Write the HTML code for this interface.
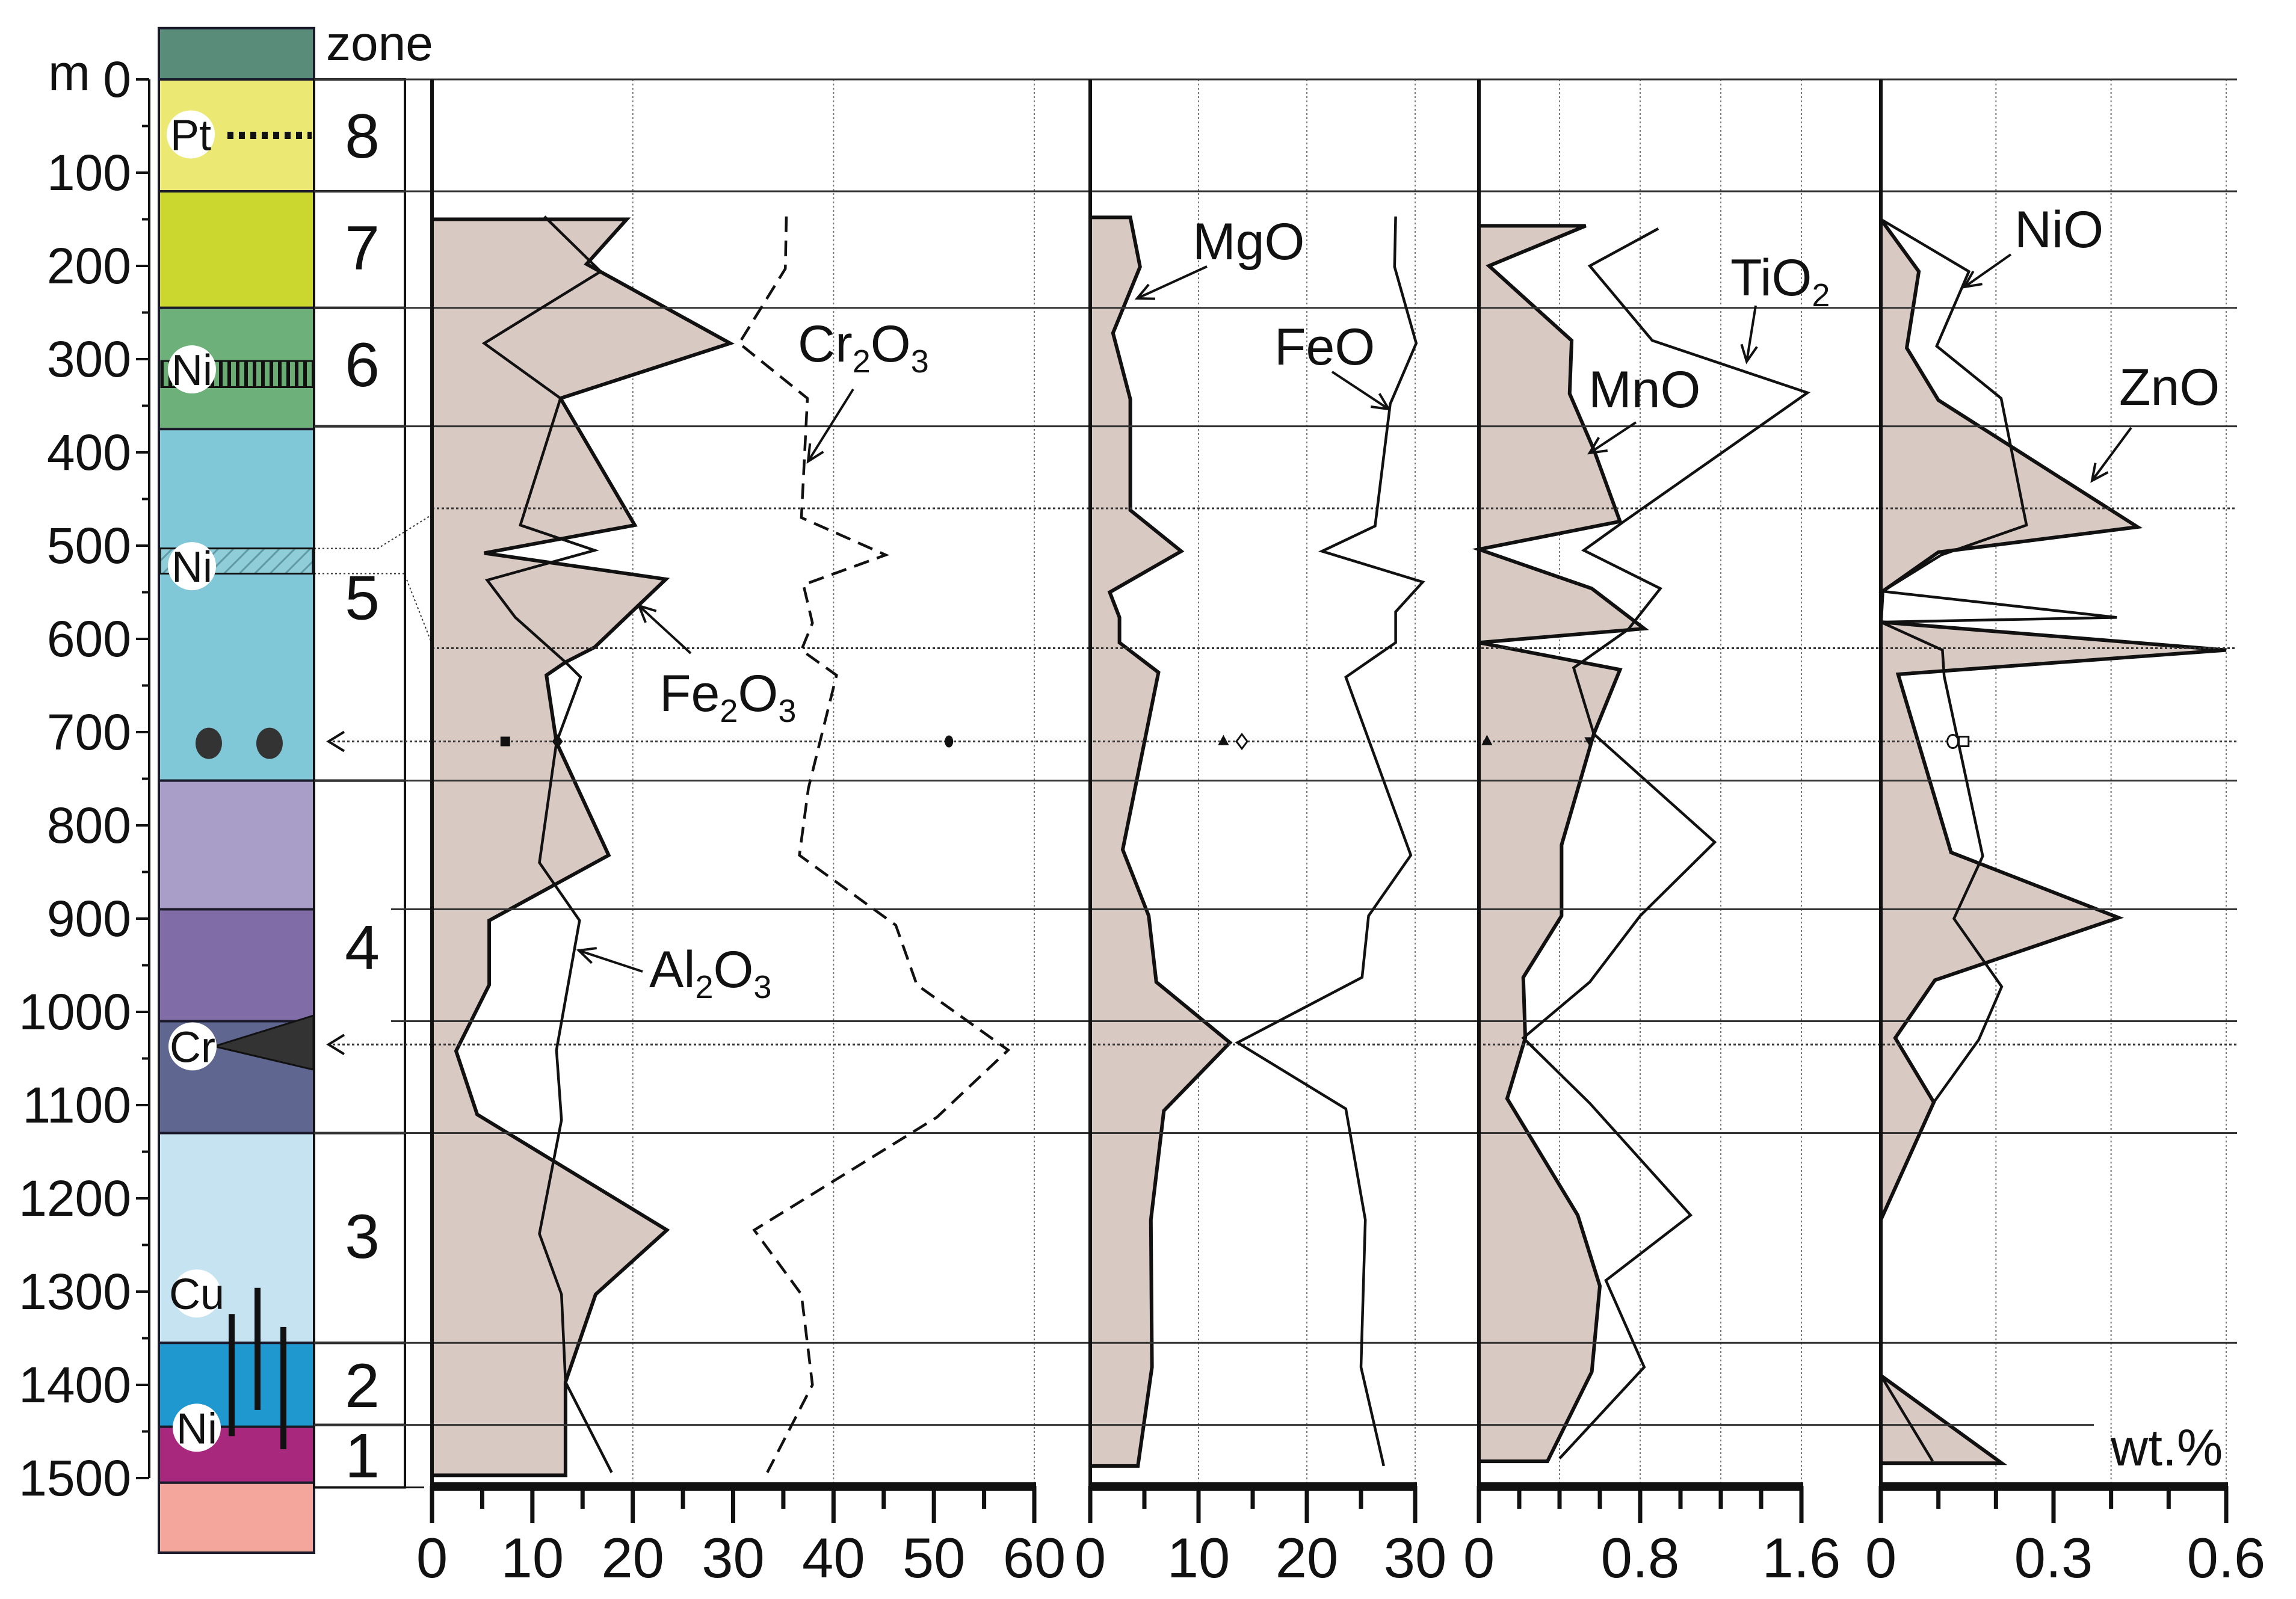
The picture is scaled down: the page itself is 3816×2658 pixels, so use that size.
<!DOCTYPE html>
<html><head><meta charset="utf-8"><style>
html,body{margin:0;padding:0;background:#fff}
svg text{font-family:"Liberation Sans",Arial,sans-serif;fill:#111}
</style></head><body>
<svg id="chart" xmlns="http://www.w3.org/2000/svg" width="3816" height="2653" viewBox="0 0 3816 2653">
<defs>
<pattern id="vhatch" width="14" height="20" patternUnits="userSpaceOnUse"><rect width="14" height="20" fill="#6aac73"/><rect x="0" width="6" height="20" fill="#111"/></pattern>
<pattern id="dhatch" width="18" height="18" patternUnits="userSpaceOnUse" patternTransform="rotate(45)"><rect width="18" height="18" fill="#8fcdd9"/><rect width="3" height="18" fill="#5f9aa6"/></pattern>
</defs>
<g id="layers"></g>
</svg>
<script>
// ---- data ----
var depthTicks=[0,100,200,300,400,500,600,700,800,900,1000,1100,1200,1300,1400,1500];
var zoneNames=["8","7","6","5","4","3","2","1"];
var zoneTops=[0,120,245,372,752,1130,1355,1443];
var zoneBottoms=[120,245,372,752,1130,1355,1443,1510];
var zoneLabelDepths=[60,180,305,555,930,1240,1400,1475];
var stratTops=[-55,0,120,245,375,752,890,1010,1130,1355,1445,1505];
var stratBottoms=[0,120,245,375,752,890,1010,1130,1355,1445,1505,1580];
var stratColors=["#5a8c7a","#ece874","#cbd62e","#6db07a","#80c8d8","#a99ec8","#806ca6","#5f6690","#c6e3f1","#1f97cf","#a8287e","#f4a59c"];
var solidLineDepths=[0,120,245,372,752,890,1010,1130,1355,1443];
var dottedLineDepths=[460,610,710,1035];

var fe2o3Depth=[150,198,283,342,478,508,536,609,625,639,711,832,902,971,1042,1110,1234,1303,1397,1497];
var fe2o3Val=[19.4,15.4,29.7,12.8,20.2,5.2,23.3,16.2,13.3,11.4,12.4,17.6,5.7,5.7,2.4,4.5,23.4,16.3,13.3,13.3];
var al2o3Depth=[147,206,283,342,478,505,537,577,625,641,711,840,902,1041,1116,1238,1303,1397,1494];
var al2o3Val=[11.2,16.8,5.2,12.8,8.8,16.2,5.5,8.3,13.3,14.8,12.4,10.7,14.7,12.4,12.9,10.7,12.9,13.3,17.9];
var cr2o3Depth=[147,203,283,342,470,510,542,583,612,639,760,832,907,971,1041,1113,1234,1303,1400,1494];
var cr2o3Val=[35.3,35.2,30.6,37.4,36.8,45.2,37,37.9,36.8,40.3,37.5,36.6,46.2,48.3,57.4,50.3,32.1,36.8,37.9,33.4];

var mgoDepth=[148,201,272,343,462,506,550,577,604,636,826,897,968,1033,1106,1223,1381,1487];
var mgoVal=[3.7,4.6,2.1,3.7,3.7,8.4,1.8,2.7,2.7,6.3,3.0,5.4,6.1,12.9,6.8,5.6,5.7,4.4];
var feoDepth=[147,201,283,348,479,506,539,571,604,641,832,897,963,1033,1104,1223,1381,1487];
var feoVal=[28.2,28.1,30.1,27.7,26.3,21.4,30.7,28.2,28.2,23.6,29.6,25.7,25.1,13.6,23.6,25.4,25.0,27.1];

var mnoDepth=[157,200,280,337,397,474,504,546,589,604,633,702,821,897,963,1028,1093,1218,1294,1386,1482];
var mnoVal=[0.53,0.05,0.46,0.45,0.57,0.70,0,0.56,0.82,0,0.70,0.57,0.41,0.41,0.22,0.23,0.14,0.49,0.60,0.56,0.34];
var tio2Depth=[160,200,280,336,474,505,546,590,631,702,818,897,968,1028,1098,1218,1288,1381,1479];
var tio2Val=[0.89,0.55,0.86,1.63,0.72,0.52,0.90,0.74,0.47,0.57,1.17,0.80,0.55,0.22,0.55,1.05,0.63,0.82,0.40];

var znoDepth=[150,206,288,344,480,507,549,582,612,638,829,899,966,1028,1097,1223,1390,1484];
var znoVal=[0,0.066,0.045,0.10,0.446,0.10,0.003,0,0.60,0.03,0.122,0.413,0.094,0.025,0.092,0,0,0.21];
var nioDepth=[150,206,286,342,478,510,549,577,582,612,640,833,900,973,1030,1097,1223,1390,1482];
var nioVal=[0,0.153,0.097,0.209,0.253,0.105,0.003,0.41,0,0.107,0.11,0.177,0.127,0.21,0.17,0.092,0,0,0.09];

var p1Ticks=[0,10,20,30,40,50,60];
var p2Ticks=[0,10,20,30];
var p3Ticks=["0","0.8","1.6"];
var p4Ticks=["0","0.3","0.6"];

// ---- helpers ----
var NS="http://www.w3.org/2000/svg";
var root=document.getElementById('layers');
function el(tag,attrs,parent){var e=document.createElementNS(NS,tag);for(var k in attrs)e.setAttribute(k,attrs[k]);(parent||root).appendChild(e);return e;}
function Y(d){return 132+1.55*d;}
function scale(x0,x1,vmax){return function(v){return x0+(x1-x0)*v/vmax;};}
var panels=[
 {x0:718,x1:1719,max:60,grid:[20,40,60],nminor:12,per:2,labels:p1Ticks,name:'panel-major-oxides'},
 {x0:1812,x1:2352,max:30,grid:[10,20,30],nminor:6,per:2,labels:p2Ticks,name:'panel-mgo-feo'},
 {x0:2458,x1:2994,max:1.6,grid:[0.4,0.8,1.2,1.6],nminor:8,per:4,labels:p3Ticks,name:'panel-mno-tio2'},
 {x0:3126,x1:3700,max:0.6,grid:[0.2,0.4,0.6],nminor:6,per:3,labels:p4Ticks,name:'panel-nio-zno'}
];
panels.forEach(function(p){p.X=scale(p.x0,p.x1,p.max);});

// ---- stratigraphic column ----
var strat=el('g',{});


stratTops.forEach(function(t,i){
 var r=el('rect',{x:264,y:Y(t),width:258,height:Y(stratBottoms[i])-Y(t),fill:stratColors[i],stroke:'#1a1a2a','stroke-width':4},strat);
 
 
});
var hb=el('rect',{x:268,y:Y(302),width:252,height:Y(330)-Y(302),fill:'url(#vhatch)',stroke:'#111','stroke-width':3},strat);


var hb2=el('rect',{x:266,y:Y(503),width:254,height:Y(530)-Y(503),fill:'url(#dhatch)',stroke:'#111','stroke-width':3},strat);


el('line',{x1:378,y1:Y(60),x2:518,y2:Y(60),stroke:'#111','stroke-width':12,'stroke-dasharray':'10,9'},strat);
var tri=el('polygon',{points:'356,'+Y(1037)+' 521,'+Y(1004)+' 521,'+Y(1062),fill:'#333',stroke:'#111','stroke-width':3},strat);


[347,448].forEach(function(cx){var c=el('ellipse',{cx:cx,cy:Y(712),rx:22,ry:26,fill:'#333'},strat);});
[[385,1324,1455],[428,1296,1427],[471,1338,1469]].forEach(function(b){var l=el('line',{x1:b[0],y1:Y(b[1]),x2:b[0],y2:Y(b[2]),stroke:'#111','stroke-width':10},strat);});
[["Pt",317,59],["Ni",319,311],["Ni",319,522],["Cr",320,1037],["Cu",327,1302],["Ni",327,1446]].forEach(function(m){
 el('circle',{cx:m[1],cy:Y(m[2]),r:40,fill:'#fff'},strat);
 var t=el('text',{x:m[1],y:Y(m[2])+26,'font-size':72,'text-anchor':'middle'},strat);t.textContent=m[0];
 
 
});
el('polyline',{points:'522,'+Y(503)+' 628,'+Y(503)+' 735,'+Y(460),fill:'none',stroke:'#333','stroke-width':2,'stroke-dasharray':'3,4'});
el('polyline',{points:'522,'+Y(530)+' 672,'+Y(530)+' 722,'+Y(612),fill:'none',stroke:'#333','stroke-width':2,'stroke-dasharray':'3,4'});

// ---- depth axis ----
var dax=el('g',{});


el('line',{x1:248,y1:Y(0),x2:248,y2:Y(1500),stroke:'#111','stroke-width':4},dax);
for(var d=0;d<=1500;d+=50){el('line',{x1:d%100==0?226:236,y1:Y(d),x2:248,y2:Y(d),stroke:'#111','stroke-width':4},dax);}
depthTicks.forEach(function(d){var t=el('text',{x:218,y:Y(d)+29,'font-size':84,'text-anchor':'end'},dax);t.textContent=d;});
var mt=el('text',{x:80,y:150,'font-size':84},dax);mt.textContent='m';

// ---- zone column ----
var zc=el('g',{});


zoneTops.forEach(function(t,i){
 var r=el('rect',{x:522,y:Y(t),width:151,height:Y(zoneBottoms[i])-Y(t),fill:'none',stroke:'#111','stroke-width':4},zc);
 
 var tx=el('text',{x:602,y:Y(zoneLabelDepths[i])+37,'font-size':104,'text-anchor':'middle'},zc);tx.textContent=zoneNames[i];
 
});
el('line',{x1:673,y1:Y(1510),x2:705,y2:Y(1510),stroke:'#111','stroke-width':3},zc);
var zt=el('text',{x:542,y:100,'font-size':82},zc);zt.textContent='zone';

// ---- gridlines ----
panels.forEach(function(p){
 p.grid.forEach(function(g){var l=el('line',{x1:p.X(g),y1:Y(0),x2:p.X(g),y2:2468,stroke:'#777','stroke-width':2,'stroke-dasharray':'3,4'});});
});

// ---- fills ----
function fillArea(p,dep,val,name){
 var pts=[[p.x0,Y(dep[0])]];
 dep.forEach(function(d,i){pts.push([p.X(val[i]),Y(d)]);});
 pts.push([p.x0,Y(dep[dep.length-1])]);
 var g=el('polygon',{points:pts.map(function(q){return q.join(',');}).join(' '),fill:'#d9c9c3',stroke:'#111','stroke-width':6,'stroke-linejoin':'miter'});
 
}
function line(p,dep,val,name,dash,w){
 var pts=dep.map(function(d,i){return p.X(val[i])+','+Y(d);}).join(' ');
 var a={points:pts,fill:'none',stroke:'#111','stroke-width':w||4.5};
 if(dash)a['stroke-dasharray']=dash;
 var g=el('polyline',a);
}
fillArea(panels[0],fe2o3Depth,fe2o3Val,'fe2o3-area');
fillArea(panels[1],mgoDepth,mgoVal,'mgo-area');
fillArea(panels[2],mnoDepth,mnoVal,'mno-area');
fillArea(panels[3],znoDepth,znoVal,'zno-area');

// ---- horizontal boundaries ----
solidLineDepths.forEach(function(d){
 var x1=(d==890||d==1010)?650:522; var x2=(d==1443)?3480:3718;
 var l=el('line',{x1:x1,y1:Y(d),x2:x2,y2:Y(d),stroke:'#333','stroke-width':3});
 
});
dottedLineDepths.forEach(function(d){
 var x1=(d==460||d==610)?718:545;
 var l=el('line',{x1:x1,y1:Y(d),x2:3718,y2:Y(d),stroke:'#333','stroke-width':3,'stroke-dasharray':'4,4'});
 
 if(x1==545){el('polyline',{points:'572,'+(Y(d)-16)+' 546,'+Y(d)+' 572,'+(Y(d)+16),fill:'none',stroke:'#111','stroke-width':4});}
});

// ---- series lines ----
line(panels[0],al2o3Depth,al2o3Val,'al2o3-line',null,4.5);
line(panels[0],cr2o3Depth,cr2o3Val,'cr2o3-line','26,14',4.5);
line(panels[1],feoDepth,feoVal,'feo-line',null,4.5);
line(panels[2],tio2Depth,tio2Val,'tio2-line',null,4.5);
line(panels[3],nioDepth,nioVal,'nio-line',null,4.5);

// ---- axes ----
panels.forEach(function(p){
 var g=el('g',{});
 el('rect',{x:p.x0-3,y:Y(0),width:6,height:2468-Y(0),fill:'#111'},g);
 el('rect',{x:p.x0-3,y:2464,width:p.x1-p.x0+6,height:14,fill:'#111'},g);
 for(var i=0;i<=p.nminor;i++){
  var tx=p.x0+(p.x1-p.x0)*i/p.nminor;
  var len=(i%p.per==0)?62:38;
  el('rect',{x:tx-3.5,y:2470,width:7,height:len,fill:'#111'},g);
 }
 p.labels.forEach(function(lb){var t=el('text',{x:p.X(parseFloat(lb)),y:2622,'font-size':94,'text-anchor':'middle'},g);t.textContent=lb;});
});

// ---- markers at 710 m ----
function mk(shape,x,name){
 var y=Y(710),s=8,e;
 if(shape=='sq')e=el('rect',{x:x-s,y:y-s,width:2*s,height:2*s,fill:'#111'});
 if(shape=='osq')e=el('rect',{x:x-s,y:y-s,width:2*s,height:2*s,fill:'#fff',stroke:'#111','stroke-width':3});
 if(shape=='dia')e=el('polygon',{points:x+','+(y-12)+' '+(x+9)+','+y+' '+x+','+(y+12)+' '+(x-9)+','+y,fill:'#111'});
 if(shape=='odia')e=el('polygon',{points:x+','+(y-12)+' '+(x+9)+','+y+' '+x+','+(y+12)+' '+(x-9)+','+y,fill:'#fff',stroke:'#111','stroke-width':3});
 if(shape=='dot')e=el('ellipse',{cx:x,cy:y,rx:7,ry:10,fill:'#111'});
 if(shape=='odot')e=el('ellipse',{cx:x,cy:y,rx:9,ry:11,fill:'#fff',stroke:'#111','stroke-width':3});
 if(shape=='tri')e=el('polygon',{points:x+','+(y-11)+' '+(x+9)+','+(y+6)+' '+(x-9)+','+(y+6),fill:'#111'});
 if(shape=='itri')e=el('polygon',{points:x+','+(y+9)+' '+(x+9)+','+(y-7)+' '+(x-9)+','+(y-7),fill:'#111'});
 
}
mk('sq',panels[0].X(7.3),'marker-al2o3-ref');mk('dia',panels[0].X(12.5),'marker-fe2o3-ref');mk('dot',panels[0].X(51.5),'marker-cr2o3-ref');
mk('tri',panels[1].X(12.3),'marker-mgo-ref');mk('odia',panels[1].X(14),'marker-feo-ref');
mk('tri',panels[2].X(0.04),'marker-mno-ref');mk('itri',panels[2].X(0.55),'marker-tio2-ref');
mk('odot',panels[3].X(0.125),'marker-nio-ref');mk('osq',panels[3].X(0.144),'marker-zno-ref');

// ---- labels & arrows ----
function lab(base,x,y,name){
 var t=el('text',{x:x,y:y,'font-size':86});
 
 base.forEach(function(part){
  var ts=el('tspan',part[1]?{'font-size':54,dy:18}:{dy:part[2]||0},t);ts.textContent=part[0];
 });
}
lab([["Cr"],["2",1],["O",0,-18],["3",1]],1326,601,'cr2o3-label');
lab([["Fe"],["2",1],["O",0,-18],["3",1]],1096,1182,'fe2o3-label');
lab([["Al"],["2",1],["O",0,-18],["3",1]],1079,1641,'al2o3-label');
lab([["MgO"]],1982,431,'mgo-label');
lab([["FeO"]],2118,606,'feo-label');
lab([["MnO"]],2640,677,'mno-label');
lab([["TiO"],["2",1]],2876,491,'tio2-label');
lab([["NiO"]],3348,411,'nio-label');
lab([["ZnO"]],3522,673,'zno-label');
var wt=el('text',{x:3508,y:2436,'font-size':86});wt.textContent='wt.%';
[[1418,647,1343,767],[1148,1086,1062,1007],[1068,1615,962,1580],[2006,443,1890,496],[2214,618,2308,680],[2719,702,2642,753],[2918,508,2903,601],[3342,423,3265,477],[3542,711,3477,799]].forEach(function(a){
 var g=el('g',{});
 
 
 el('line',{x1:a[0],y1:a[1],x2:a[2],y2:a[3],stroke:'#111','stroke-width':4},g);
 var ang=Math.atan2(a[3]-a[1],a[2]-a[0]),L=30,sp=0.45;
 var p1=[a[2]-L*Math.cos(ang-sp),a[3]-L*Math.sin(ang-sp)],p2=[a[2]-L*Math.cos(ang+sp),a[3]-L*Math.sin(ang+sp)];
 el('polyline',{points:p1.join(',')+' '+a[2]+','+a[3]+' '+p2.join(','),fill:'none',stroke:'#111','stroke-width':4},g);
});
</script>
</body></html>
